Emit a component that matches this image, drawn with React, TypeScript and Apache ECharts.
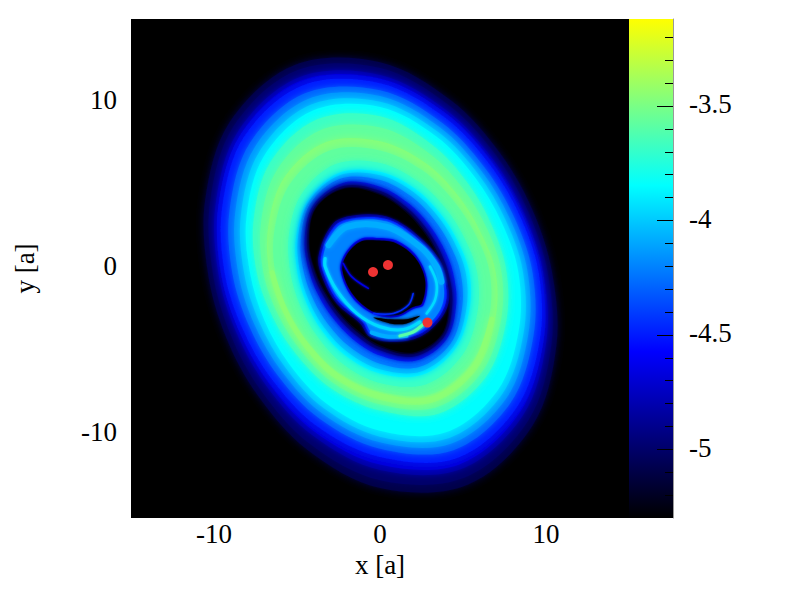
import React, { useEffect, useRef } from "react";
import * as echarts from "echarts";

const FONT = "'Liberation Serif', serif";
const COLOR_MIN = -5.3;
const COLOR_MAX = -3.12;
const colorStops = ["#000000", "#0000ff", "#00ffff", "#ffff00"];
const diskCentre = [0, -0.25];
// radii of the disk's density contours, read every 22.5 degrees from east, anticlockwise
const contourAngles = [0, 22.5, 45, 67.5, 90, 112.5, 135, 157.5, 180, 202.5, 225, 247.5, 270, 292.5, 315, 337.5];
const contourLevels = [-5.1, -5.0, -4.85, -4.68, -4.5, -4.3, -4.15, -4.0, -3.85, -3.68, -3.57, -3.47, -3.57, -3.68, -3.85, -4.0, -4.2, -4.5, -4.8, -5.1, -5.3];
const contourRadii = [
  [10.37, 9.93, 10.2, 11.2, 12.65, 13.5, 12.8, 11.4, 10.37, 10.05, 10.42, 11.5, 12.95, 13.8, 13.0, 11.5],
  [10.1, 9.65, 9.92, 10.88, 12.3, 13.15, 12.46, 11.08, 10.07, 9.74, 10.09, 11.12, 12.48, 13.33, 12.61, 11.18],
  [9.84, 9.39, 9.62, 10.54, 11.89, 12.71, 12.06, 10.72, 9.74, 9.37, 9.66, 10.6, 11.87, 12.78, 12.16, 10.84],
  [9.72, 9.24, 9.47, 10.37, 11.68, 12.49, 11.84, 10.54, 9.58, 9.19, 9.44, 10.33, 11.54, 12.48, 11.9, 10.66],
  [9.56, 9.09, 9.28, 10.13, 11.39, 12.18, 11.57, 10.29, 9.36, 8.94, 9.15, 9.98, 11.09, 12.08, 11.58, 10.43],
  [9.19, 8.74, 8.92, 9.75, 10.96, 11.69, 11.06, 9.81, 8.9, 8.51, 8.72, 9.5, 10.58, 11.55, 11.1, 10.0],
  [8.9, 8.47, 8.64, 9.45, 10.62, 11.3, 10.67, 9.44, 8.54, 8.18, 8.38, 9.15, 10.2, 11.14, 10.73, 9.67],
  [8.62, 8.2, 8.37, 9.15, 10.28, 10.92, 10.28, 9.07, 8.19, 7.85, 8.06, 8.83, 9.86, 10.77, 10.37, 9.37],
  [8.34, 7.93, 8.1, 8.86, 9.96, 10.55, 9.89, 8.71, 7.83, 7.53, 7.75, 8.49, 9.5, 10.39, 10.02, 9.05],
  [7.63, 7.31, 7.53, 8.29, 9.4, 9.96, 9.36, 8.24, 7.42, 6.99, 7.05, 7.57, 8.29, 9.18, 8.96, 8.19],
  [7.32, 6.96, 7.1, 7.76, 8.72, 9.28, 8.76, 7.76, 7.02, 6.63, 6.69, 7.21, 7.91, 8.77, 8.58, 7.85],
  [6.97, 6.52, 6.6, 7.13, 7.9, 8.51, 8.13, 7.28, 6.66, 6.31, 6.42, 6.94, 7.65, 8.43, 8.23, 7.5],
  [6.61, 6.18, 6.2, 6.66, 7.35, 7.95, 7.62, 6.87, 6.31, 5.96, 6.03, 6.5, 7.14, 7.93, 7.74, 7.1],
  [5.85, 5.49, 5.53, 5.95, 6.6, 7.05, 6.68, 5.94, 5.39, 5.2, 5.37, 5.91, 6.63, 7.26, 7.01, 6.34],
  [5.39, 5.05, 5.09, 5.48, 6.06, 6.49, 6.16, 5.48, 4.98, 4.79, 4.94, 5.41, 6.06, 6.65, 6.44, 5.83],
  [5.16, 4.83, 4.87, 5.25, 5.85, 6.34, 6.06, 5.35, 4.81, 4.59, 4.71, 5.15, 5.81, 6.43, 6.26, 5.63],
  [4.85, 4.53, 4.57, 4.95, 5.57, 6.13, 5.92, 5.17, 4.58, 4.32, 4.4, 4.81, 5.47, 6.14, 6.02, 5.36],
  [4.4, 4.1, 4.14, 4.51, 5.17, 5.84, 5.71, 4.92, 4.25, 3.93, 3.95, 4.31, 4.98, 5.72, 5.67, 4.97],
  [4.12, 3.83, 3.87, 4.24, 4.92, 5.65, 5.59, 4.76, 4.05, 3.68, 3.68, 4.0, 4.67, 5.45, 5.46, 4.72],
  [3.93, 3.65, 3.69, 4.06, 4.75, 5.53, 5.5, 4.65, 3.91, 3.52, 3.49, 3.79, 4.47, 5.28, 5.31, 4.56],
  [3.84, 3.56, 3.6, 3.97, 4.67, 5.47, 5.46, 4.6, 3.84, 3.44, 3.4, 3.69, 4.37, 5.19, 5.24, 4.48],
];
// the inner, circumbinary ring and its hole, as outlines in axis units
const innerEdge = [[-1.4, 3.22], [-2.81, 2.72], [-3.71, 0.71], [-3.41, -0.69], [-2.61, -2.1], [-1.2, -3.3], [-0.6, -4.11], [0.8, -4.41], [2.41, -4.11], [3.61, -3.1], [4.12, -2.1], [4.12, -1.09], [3.61, 0.51], [2, 2.22], [0.4, 3.12]];
const innerBody = [[-1.4, 3.05], [-2.7, 2.58], [-3.56, 0.71], [-3.27, -0.64], [-2.5, -2], [-1.1, -3.15], [-0.55, -3.95], [0.8, -4.25], [2.35, -3.95], [3.48, -3], [3.96, -2.05], [3.97, -1.05], [3.48, 0.45], [1.92, 2.1], [0.4, 2.97]];
const innerCore = [[-1.4, 2.9], [-2.6, 2.45], [-3.42, 0.71], [-3.13, -0.6], [-2.4, -1.9], [-1, -3], [-0.5, -3.8], [0.8, -4.1], [2.28, -3.8], [3.35, -2.9], [3.8, -2], [3.82, -1], [3.35, 0.4], [1.85, 1.98], [0.4, 2.82]];
const innerRim = [[-1.25, 1.75], [-2.1, 0.9], [-2.38, -0.09], [-1.7, -1.7], [-0.43, -2.72], [1, -2.92], [2.05, -2.42], [2.62, -2.2], [2.83, -0.69], [2.2, 0.75], [1.0, 1.68], [-0.2, 1.84]];
const innerHole = [[-1.2, 1.6], [-1.98, 0.85], [-2.26, -0.09], [-1.6, -1.6], [-0.4, -2.6], [1, -2.8], [2, -2.3], [2.51, -2.1], [2.71, -0.69], [2.1, 0.66], [0.95, 1.52], [-0.2, 1.68]];
const innerPocket = [[-0.4, -2.95], [0.6, -3.3], [1.6, -3.3], [2.4, -2.85], [1.6, -3.05], [0.6, -3.05]];
const outlines = [innerEdge, innerBody, innerCore, innerRim, innerHole, innerPocket];
const outlineLevels = [-4.9, -4.5, -4.2, -4.6, -5.3, -5.3];
// bright strands: the lower part of the outer ridge, then those of the inner ring
const strands = [
  [[-6.5, -0.25], [-5.68, -2.6], [-4.4, -4.65], [-2.57, -6.46], [0, -7.65], [3.14, -7.83], [5.66, -5.9], [6.74, -3.04]],
  [[-3.1, 1.4], [-2, 2.5], [0.4, 2.5], [2.41, 1.31], [3.41, 0.11], [3.7, -0.8]],
  [[-0.5, -3.85], [0.5, -4.1], [1.6, -4.05]],
  [[-3.3, 0.6], [-3.3, 0.11], [-2.61, -1.3], [-1.4, -2.7], [0, -3.5], [1.41, -3.67], [2.41, -3.2]],
  [[1.2, -4.05], [2, -3.81], [2.61, -3.35]],
  [[2.81, -2.7], [3.31, -1.9], [3.41, -0.89], [3.01, 0.11]],
  [[2, -1.5], [1.71, -2.2], [0.8, -2.7], [-0.4, -2.7]],
  [[-2.21, 0.31], [-1.71, -0.49], [-0.7, -1.2]],
];
const strandLevels = [-3.45, -4.08, -4.08, -3.95, -3.6, -3.95, -4.45, -4.65];
const strandWidths = [5, 6, 4, 3, 3, 2.5, 1.5, 1.5];
const strandBlurs = [7, 4, 4, 3, 3, 3, 2, 2];
const stars = [[-0.42, -0.21], [0.48, 0.21], [2.86, -3.25]];
const xTicks = [-10, 0, 10];
const yTicks = [-10, 0, 10];
const barMajorTicks = [-5, -4.5, -4, -3.5];
const barMinorTicks = [-5.2, -5.1, -4.9, -4.8, -4.7, -4.6, -4.4, -4.3, -4.2, -4.1, -3.9, -3.8, -3.7, -3.6, -3.4, -3.3, -3.2];

function hex(c: string) {
  return [1, 3, 5].map((i) => parseInt(c.slice(i, i + 2), 16));
}
function levelColor(v: number) {
  const t = Math.max(0, Math.min(1, (v - COLOR_MIN) / (COLOR_MAX - COLOR_MIN))) * (colorStops.length - 1);
  const i = Math.min(colorStops.length - 2, Math.floor(t));
  const a = hex(colorStops[i]);
  const b = hex(colorStops[i + 1]);
  const m = a.map((p, k) => Math.round(p + (b[k] - p) * (t - i)));
  return `rgb(${m[0]},${m[1]},${m[2]})`;
}

const axisText = { fontFamily: FONT, fontSize: 27, color: "#000" };

export default function App() {
  const ref = useRef<HTMLDivElement>(null);
  useEffect(() => {
    const chart = echarts.init(ref.current!, undefined, { renderer: "svg" });
    const contourPolys = contourRadii.map((row) =>
      row.map((r, i) => {
        const a = (contourAngles[i] * Math.PI) / 180;
        return [diskCentre[0] + r * Math.cos(a), diskCentre[1] + r * Math.sin(a)];
      })
    );
    const polys = [...contourPolys, ...outlines];
    const polyLevels = [...contourLevels, ...outlineLevels];
    chart.setOption({
      animation: false,
      backgroundColor: "#fff",
      grid: [
        { left: 131, top: 19, width: 498, height: 499, show: true, backgroundColor: "#000", borderWidth: 0 },
        { left: 629, top: 19, width: 44, height: 499, show: false },
      ],
      xAxis: [
        {
          type: "value", gridIndex: 0, min: -15, max: 15, name: "x [a]", nameLocation: "middle", nameGap: 28,
          nameTextStyle: axisText, splitLine: { show: false }, axisLine: { show: false }, axisTick: { show: false },
          axisLabel: { ...axisText, margin: 2, customValues: xTicks },
        },
        { type: "value", gridIndex: 1, min: 0, max: 1, show: false },
      ],
      yAxis: [
        {
          type: "value", gridIndex: 0, min: -15, max: 15, name: "y [a]", nameLocation: "middle", nameGap: 93, nameRotate: 90,
          nameTextStyle: axisText, splitLine: { show: false }, axisLine: { show: false }, axisTick: { show: false },
          axisLabel: { ...axisText, margin: 14, customValues: yTicks, verticalAlign: "bottom", lineHeight: 5 },
        },
        {
          type: "value", gridIndex: 1, min: COLOR_MIN, max: COLOR_MAX, position: "right", splitLine: { show: false }, z: 10,
          axisLine: { show: true, onZero: false, lineStyle: { color: "#999", width: 1 } },
          axisTick: { show: true, inside: true, length: 16, lineStyle: { color: "#000", width: 1 }, customValues: barMajorTicks },
          axisLabel: { ...axisText, margin: 16, customValues: barMajorTicks, verticalAlign: "bottom", lineHeight: 3 },
        },
        {
          type: "value", gridIndex: 1, min: COLOR_MIN, max: COLOR_MAX, position: "right", splitLine: { show: false }, z: 10,
          axisLine: { show: false, onZero: false },
          axisTick: { show: true, inside: true, length: 8, lineStyle: { color: "#000", width: 1 }, customValues: barMinorTicks },
          axisLabel: { show: false },
        },
      ],
      series: [
        {
          type: "custom", xAxisIndex: 0, yAxisIndex: 0, coordinateSystem: "cartesian2d", clip: true, silent: true,
          data: polys.map((_, i) => [i]),
          encode: { x: [], y: [] },
          renderItem: (params: any, api: any) => {
            const c = levelColor(polyLevels[params.dataIndex]);
            return {
              type: "polygon",
              shape: { points: polys[params.dataIndex].map((p) => api.coord(p)), smooth: 0.34 },
              style: { fill: c, shadowBlur: params.dataIndex < contourRadii.length ? 8 : 3, shadowColor: c },
            };
          },
        },
        {
          type: "custom", xAxisIndex: 0, yAxisIndex: 0, coordinateSystem: "cartesian2d", clip: true, silent: true,
          data: strands.map((_, i) => [i]),
          encode: { x: [], y: [] },
          renderItem: (params: any, api: any) => {
            const c = levelColor(strandLevels[params.dataIndex]);
            return {
              type: "polyline",
              shape: { points: strands[params.dataIndex].map((p) => api.coord(p)), smooth: 0.34 },
              style: { fill: "none", stroke: c, lineWidth: strandWidths[params.dataIndex], lineCap: "round", shadowBlur: strandBlurs[params.dataIndex], shadowColor: c },
            };
          },
        },
        {
          type: "scatter", xAxisIndex: 0, yAxisIndex: 0, data: stars, symbol: "circle", symbolSize: 10,
          itemStyle: { color: "#ee3333", opacity: 1 }, z: 5, silent: true,
        },
        {
          type: "custom", xAxisIndex: 1, yAxisIndex: 1, coordinateSystem: "cartesian2d", silent: true,
          data: [[0, COLOR_MIN, 1, COLOR_MAX]],
          encode: { x: [0, 2], y: [1, 3] },
          renderItem: (_: any, api: any) => {
            const a = api.coord([api.value(0), api.value(1)]);
            const b = api.coord([api.value(2), api.value(3)]);
            return {
              type: "rect",
              shape: { x: a[0], y: b[1], width: b[0] - a[0], height: a[1] - b[1] },
              style: {
                fill: new echarts.graphic.LinearGradient(0, 1, 0, 0,
                  colorStops.map((color, i) => ({ offset: i / (colorStops.length - 1), color }))),
              },
            };
          },
        },
      ],
    });
    return () => chart.dispose();
  }, []);
  return <div ref={ref} style={{ position: "fixed", left: 0, top: 0, width: 800, height: 600 }} />;
}
